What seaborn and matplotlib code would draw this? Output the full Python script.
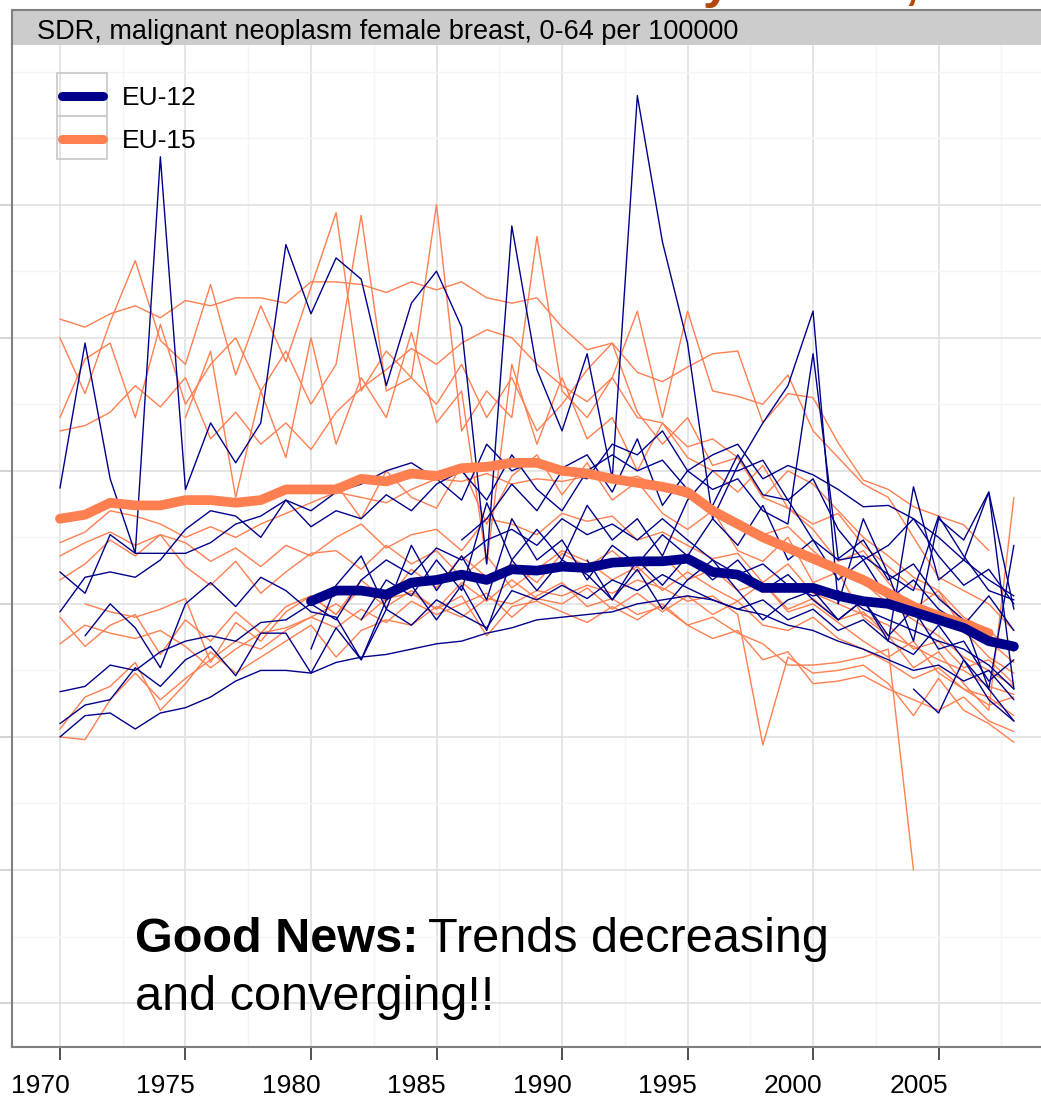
import numpy as np
import pandas as pd
import matplotlib
matplotlib.use("Agg")
import matplotlib.pyplot as plt
from matplotlib.lines import Line2D
from matplotlib.patches import Rectangle
from matplotlib.ticker import FixedLocator
from matplotlib.transforms import ScaledTranslation
import seaborn as sns

nan = np.nan
years = list(range(1970, 2009))
x_ticks = [1970, 1975, 1980, 1985, 1990, 1995, 2000, 2005]
y_major = [5, 10, 15, 20, 25, 30, 35]

# Group averages (SDR per 100000, women aged 0-64)
eu15_mean = [23.2, 23.35, 23.8, 23.7, 23.7, 23.9, 23.9, 23.8, 23.9, 24.3,
             24.3, 24.3, 24.7, 24.6, 24.9, 24.8, 25.1, 25.15, 25.3, 25.3,
             25.0, 24.9, 24.7, 24.55, 24.4, 24.2, 23.5, 23.0, 22.5, 22.1,
             21.7, 21.3, 20.9, 20.4, 19.9, 19.55, 19.25, 18.9, nan]
eu12_mean = [nan] * 10 + [
             20.1, 20.5, 20.5, 20.35, 20.8, 20.9, 21.1, 20.9, 21.3, 21.25,
             21.4, 21.35, 21.55, 21.6, 21.6, 21.7, 21.2, 21.1, 20.6, 20.6,
             20.6, 20.3, 20.1, 20.0, 19.7, 19.4, 19.1, 18.6, 18.4]

# EU-15 member states
eu15_a = [30.7, 30.4, 30.9, 31.2, 30.75, 31.4, 31.2, 31.5, 31.5, 31.3,
          32.1, 32.1, 32.0, 31.7, 32.1, 31.8, 32.1, 31.5, 31.3, 31.5,
          30.4, 29.55, 29.8, 28.7, 28.35, 28.9, 29.4, 29.5, 26.8, 27.9,
          27.75, 26.05, 24.65, 24.3, 23.65, 23.3, 22.97, 22.0, nan]
eu15_b = [30.0, 27.9, 30.6, 32.9, 29.9, 29.0, 32.0, 28.6, 31.2, 29.1,
          31.9, 34.7, 28.0, 29.5, 28.5, 35.0, 26.5, 28.0, 27.0, 33.8,
          28.0, 27.0, 28.5, 31.0, 27.0, 31.0, 28.0, 27.8, 27.5, 28.6,
          26.5, 25.5, 24.5, 24.0, 22.5, 21.0, 20.5, 20.0, 19.0]
eu15_c = [27.0, 29.2, 29.8, 27.0, 30.5, 27.5, 29.0, 30.0, 28.0, 29.5,
          27.5, 29.0, 34.6, 28.0, 28.5, 27.5, 29.0, 27.0, 28.5, 26.5,
          27.5, 28.8, 29.8, 27.2, 26.0, 27.0, 25.2, 25.5, 24.0, 25.0,
          24.5, 23.5, 22.5, 21.8, 21.0, 20.5, 19.5, 19.0, 18.2]
eu15_d = [26.5, 26.7, 27.2, 28.2, 27.4, 28.5, 26.2, 27.2, 26.0, 26.8,
          25.8, 27.2, 28.1, 28.8, 29.6, 29.0, 29.8, 30.3, 30.0, 29.0,
          28.2, 27.6, 28.5, 27.0, 26.8, 25.9, 26.2, 25.5, 24.0, 23.6,
          23.0, 23.4, 22.2, 21.4, 20.6, 20.3, 19.3, 18.6, 17.8]
eu15_e = [22.3, 22.7, 23.5, 23.3, 23.0, 22.5, 22.9, 22.5, 23.0, 23.4,
          23.8, 24.2, 24.0, 23.8, 24.3, 24.7, 24.6, 24.9, 24.5, 24.7,
          24.6, 24.8, 24.6, 24.8, 24.3, 24.0, 23.4, 23.0, 22.6, 22.9,
          22.0, 21.2, 20.8, 20.0, 19.4, 18.8, 18.0, 17.5, 16.9]
eu15_f = [21.8, 22.3, 22.7, 22.2, 22.6, 22.3, 21.6, 22.1, 21.4, 22.2,
          21.8, 22.5, 23.0, 22.1, 22.6, 22.8, 22.0, 23.2, 23.0, 22.6,
          23.4, 23.1, 23.3, 22.4, 22.7, 22.2, 21.7, 21.9, 20.8, 21.5,
          20.4, 20.0, 19.6, 19.2, 18.3, 18.6, 17.6, 17.9, 17.0]
eu15_g = [20.9, 21.5, 22.4, 21.8, 22.6, 21.4, 20.7, 21.6, 20.4, 21.2,
          21.9, 22.0, 21.3, 22.2, 21.5, 22.0, 21.0, 21.8, 20.6, 21.3,
          22.0, 21.6, 20.9, 21.4, 20.5, 21.2, 20.6, 20.1, 20.8, 19.7,
          20.0, 19.3, 18.6, 18.0, 18.6, 17.4, 16.8, 16.5, 15.8]
eu15_h = [19.5, 18.4, 19.2, 19.6, 18.1, 19.4, 18.6, 19.7, 18.9, 19.9,
          20.3, 19.6, 20.6, 19.9, 20.5, 19.8, 20.8, 20.1, 20.9, 20.2,
          20.0, 20.6, 19.8, 20.4, 19.7, 20.3, 19.6, 20.1, 19.2, 19.0,
          19.5, 18.7, 18.3, 17.8, 17.2, 17.6, 16.8, 16.2, 16.5]
eu15_i = [18.5, 19.2, 18.9, 18.7, 19.0, 18.4, 17.6, 18.3, 18.9, 19.1,
          19.5, 20.0, 19.4, 20.2, 20.4, 19.8, 20.3, 18.8, 19.9, 20.1,
          19.7, 19.3, 19.9, 19.4, 20.0, 19.2, 18.7, 19.0, 17.9, 18.2,
          17.0, 17.1, 17.3, 16.8, 16.4, 16.0, 16.5, 15.6, 15.2]
eu15_j = [15.3, 16.5, 16.9, 17.8, 16.0, 17.0, 18.2, 17.4, 18.0, 18.6,
          19.2, 18.0, 19.0, 19.4, 19.2, 19.9, 19.5, 20.2, 20.0, 20.5,
          20.3, 20.7, 20.4, 20.9, 20.6, 20.1, 20.3, 19.6, 14.7, 18.0,
          17.4, 17.5, 17.7, 17.0, 15.8, 17.2, 16.0, 15.5, 14.8]
eu15_k = [15.0, 14.9, 16.4, 17.4, 16.4, 17.2, 17.9, 18.6, 18.3, 19.0,
          19.5, 19.1, 19.8, 19.3, 20.1, 19.6, 20.0, 20.4, 19.5, 20.3,
          20.8, 19.9, 20.2, 19.6, 19.9, 19.2, 19.5, 18.9, 18.5, 17.7,
          17.7, 17.8, 18.0, 18.3, 10.0, nan, nan, nan, nan]
eu15_l = [nan, 20.0, 19.7, 19.5, 19.8, 20.2, 17.8, 19.3, 18.6, 19.7,
          20.3, 19.6, 20.9, 20.1, 21.3, 20.6, 21.8, 21.0, 21.5, 20.8,
          21.9, 21.4, 22.0, 21.2, 21.8, 20.9, 21.3, 20.5, 20.8, 19.8,
          20.2, 19.4, 19.7, 18.8, 18.4, 17.9, 17.5, 16.9, 16.6]
eu15_m = [nan] * 10 + [
          nan, 24.5, 23.2, 25.0, 24.0, 23.6, 25.2, 23.0, 24.8, 25.6,
          24.1, 25.3, 23.9, 24.6, 23.4, 22.8, 23.5, 22.0, 21.6, 22.5,
          20.8, 21.2, 19.5, 18.8, 17.6, 18.2, 17.0, 16.0, 24.0]
eu15_n = [nan, nan, nan, nan, nan, 27.0, 29.5, 24.0, 28.0, 25.5,
          30.0, 26.0, 28.5, 27.0, 30.2, 26.8, 28.0, 21.5, 29.0, 26.0,
          28.5, 26.2, 27.0, 25.0, 26.8, 25.5, 25.0, 24.2, 25.2, 23.6,
          22.8, 21.6, 22.0, 20.8, 19.8, 20.5, 19.0, 18.0, 17.4]

# EU-12 member states
eu12_a = [24.35, 29.8, 24.7, 21.9, 36.8, 24.3, 26.8, 25.3, 26.8, 33.5,
          30.9, 33.0, 32.2, 28.2, 31.3, 32.5, 30.4, 21.5, 34.2, 28.8,
          26.5, 29.4, 24.7, 39.1, 33.6, 29.8, 23.2, 25.2, 26.8, 28.2,
          31.0, 20.0, 23.2, 21.1, 18.6, 23.2, 22.4, 24.2, 19.8]
eu12_b = [21.2, 20.4, 22.6, 21.9, 21.9, 21.9, 22.3, 23.0, 23.3, 23.9,
          23.5, 24.2, 24.5, 25.0, 25.3, 24.7, 23.9, 26.0, 25.0, 25.4,
          25.1, 25.6, 24.2, 26.2, 23.7, 25.0, 24.3, 24.7, 23.5, 23.0,
          29.4, 21.7, 22.4, 20.9, 21.5, 20.2, 19.4, 16.8, 22.2]
eu12_c = [19.7, 21.0, 21.2, 21.0, 21.65, 22.8, 23.5, 23.3, 22.5, 23.9,
          22.9, 23.5, 23.2, 24.1, 23.5, 24.5, 25.0, 23.9, 25.6, 24.3,
          23.5, 25.0, 25.6, 25.0, 25.4, 24.3, 23.7, 25.6, 24.1, 23.9,
          22.4, 21.65, 21.8, 21.1, 20.5, 23.3, 21.8, 20.5, 20.15]
eu12_d = [16.7, 16.9, 17.7, 17.5, 18.2, 18.6, 18.8, 18.6, 19.3, 19.4,
          20.0, 19.4, 20.9, 21.65, 21.1, 22.1, 21.65, 22.4, 22.8, 22.2,
          23.2, 22.6, 23.0, 22.4, 23.2, 22.4, 21.65, 21.1, 21.5, 20.7,
          20.3, 20.5, 19.8, 19.4, 19.0, 18.6, 18.3, 17.7, 16.8]
eu12_e = [15.5, 16.2, 16.4, 17.6, 16.9, 17.9, 18.4, 17.3, 18.9, 18.9,
          17.4, 19.1, 17.9, 19.8, 19.2, 20.15, 19.6, 19.1, 20.5, 20.15,
          20.7, 20.2, 20.9, 20.5, 21.1, 20.6, 20.15, 19.8, 20.15, 19.4,
          19.8, 19.0, 19.4, 18.6, 18.1, 19.2, 17.9, 16.4, 15.6]
eu12_f = [15.0, 15.8, 15.9, 15.3, 15.9, 16.1, 16.5, 17.1, 17.5, 17.5,
          17.4, 17.8, 18.0, 18.1, 18.3, 18.5, 18.6, 18.9, 19.1, 19.4,
          19.5, 19.6, 19.7, 20.0, 20.15, 20.3, 20.15, 19.8, 19.6, 19.2,
          19.0, 18.6, 18.3, 17.9, 17.5, 17.7, 17.1, 17.5, 16.4]
eu12_g = [nan, 18.8, 20.0, 19.1, 17.6, 20.0, 20.8, 19.9, 21.0, 20.5,
          19.7, 19.5, 17.9, 20.15, 20.7, 19.4, 20.7, 19.0, 21.65, 20.5,
          21.65, 21.1, 20.15, 21.65, 20.7, 21.8, 20.9, 21.65, 20.5, 21.1,
          20.15, 19.4, 20.15, 18.8, 19.8, 18.3, 18.6, 17.1, 17.9]
eu12_h = [nan] * 10 + [
          18.3, 20.7, 21.8, 19.8, 22.2, 20.5, 21.8, 20.15, 23.2, 21.65,
          22.4, 20.9, 22.2, 21.5, 22.6, 21.8, 23.2, 22.2, 23.7, 21.65,
          22.4, 20.9, 21.65, 20.15, 20.9, 19.8, 19.2, 20.3, 19.0]
eu12_i = [nan] * 12 + [
          19.4, 20.9, 20.3, 21.65, 20.5, 23.8, 21.65, 22.8,
          21.65, 23.7, 22.4, 23.2, 21.8, 23.9, 25.0, 25.0, 25.4, 23.9,
          24.7, 22.8, 21.65, 22.2, 23.2, 21.8, 20.7, 21.3, 20.0]
eu12_j = [nan] * 16 + [
          22.4, 23.2, 24.5, 23.5,
          25.0, 24.7, 26.0, 25.6, 26.5, 25.0, 25.6, 26.0, 24.7, 25.2,
          24.85, 24.3, 23.65, 23.7, 23.2, 22.5, 21.65, 20.9, 20.3]
eu12_k = [nan] * 34 + [16.8, 15.9, 17.9, 16.8, 15.6]
eu12_l = [nan] * 21 + [
          21.65, 20.15, 21.3, 19.8, 20.9, 21.65, 20.5, 19.4, 20.15,
          20.5, 19.4, 20.15, 18.6, 24.4, 20.9, 21.65, 24.2, 16.8]

eu15_series = [eu15_a, eu15_b, eu15_c, eu15_d, eu15_e, eu15_f, eu15_g,
               eu15_h, eu15_i, eu15_j, eu15_k, eu15_l, eu15_m, eu15_n]
eu12_series = [eu12_a, eu12_b, eu12_c, eu12_d, eu12_e, eu12_f,
               eu12_g, eu12_h, eu12_i, eu12_j, eu12_k, eu12_l]

rows = []
for group, series_list in (("EU-15", eu15_series), ("EU-12", eu12_series)):
    for i, vals in enumerate(series_list):
        for yr, v in zip(years, vals):
            if not np.isnan(v):
                rows.append((group, f"{group} #{i + 1}", yr, v))
df = pd.DataFrame(rows, columns=["group", "country", "year", "rate"])

NAVY = "#00008B"
CORAL = "#FF7F50"

sns.set_style("white")
plt.rcParams["font.family"] = ["Liberation Sans", "DejaVu Sans"]
plt.rcParams["text.color"] = "black"

W, H = 1041, 1097
fig = plt.figure(figsize=(W / 100, H / 100), dpi=100)
ax = fig.add_axes([12 / W, 50 / H, (W - 12) / W, 1002 / H])

# individual countries
sns.lineplot(data=df[df.group == "EU-15"], x="year", y="rate", units="country",
             estimator=None, color=CORAL, lw=1.0, ax=ax, legend=False)
sns.lineplot(data=df[df.group == "EU-12"], x="year", y="rate", units="country",
             estimator=None, color=NAVY, lw=1.0, ax=ax, legend=False)

# group averages
sns.lineplot(x=years, y=eu15_mean, color=CORAL, lw=7, ax=ax, label="EU-15",
             errorbar=None, solid_joinstyle="round")
sns.lineplot(x=years, y=eu12_mean, color=NAVY, lw=7, ax=ax, label="EU-12",
             errorbar=None, solid_joinstyle="round")

ax.set_xlim(1968.09, 2009.08)
ax.set_ylim(3.35, 41.0)
ax.xaxis.set_major_locator(FixedLocator(x_ticks))
ax.xaxis.set_minor_locator(FixedLocator([1967.5 + 5 * k for k in range(9)]))
ax.yaxis.set_major_locator(FixedLocator(y_major))
ax.yaxis.set_minor_locator(FixedLocator([7.5, 12.5, 17.5, 22.5, 27.5, 32.5, 37.5, 40.0]))
ax.grid(which="major", color="#E3E3E3", lw=1.3)
ax.grid(which="minor", color="#F4F4F4", lw=1.0)
ax.set_axisbelow(True)
ax.tick_params(axis="x", which="major", bottom=True, length=9.4, width=1.2,
               color="#333333", labelsize=19, pad=10, labelcolor="black")
ax.tick_params(axis="x", which="minor", length=0)
ax.tick_params(axis="y", which="major", left=True, length=8.6, width=1.2,
               color="#CCCCCC", labelleft=False)
ax.tick_params(axis="y", which="minor", length=0)
ax.set_xlabel("")
ax.set_ylabel("")
for s in ("top", "right"):
    ax.spines[s].set_visible(False)
for s in ("left", "bottom"):
    ax.spines[s].set_color("#7F7F7F")
    ax.spines[s].set_linewidth(1.5)

# year labels sit slightly left of their tick marks
shift = ScaledTranslation(-20 / 100, 0, fig.dpi_scale_trans)
for lbl in ax.get_xticklabels():
    lbl.set_transform(lbl.get_transform() + shift)

# legend
handles, labels = ax.get_legend_handles_labels()
order = [labels.index("EU-12"), labels.index("EU-15")]
leg = ax.legend([handles[i] for i in order], [labels[i] for i in order],
                loc="upper left", bbox_to_anchor=(62 / W, (H - 86) / H),
                bbox_transform=fig.transFigure, frameon=False, fontsize=19,
                borderpad=0, borderaxespad=0, handlelength=1.55,
                handletextpad=0.72, labelspacing=0.72)
for txt in leg.get_texts():
    txt.set_color("black")
for lh in leg.get_lines():
    lh.set_linewidth(6.5)
for top in (73, 116):
    ax.add_patch(Rectangle((57 / W, (H - top - 43) / H), 50 / W, 43 / H,
                           transform=fig.transFigure, fill=False,
                           edgecolor="#CCCCCC", lw=1.3, zorder=4, clip_on=False))

# facet strip
fig.add_artist(Rectangle((12 / W, (H - 45) / H), (W - 12) / W, 35 / H,
                         transform=fig.transFigure, facecolor="#CCCCCC",
                         edgecolor="none"))
fig.add_artist(Line2D([12 / W, 1], [(H - 10) / H] * 2, transform=fig.transFigure,
                      color="#7F7F7F", lw=1.5))
fig.add_artist(Line2D([12 / W] * 2, [(H - 10) / H, (H - 45) / H],
                      transform=fig.transFigure, color="#7F7F7F", lw=1.5))
fig.text(37 / W, (H - 39) / H, "SDR, malignant neoplasm female breast, 0-64 per 100000",
         fontsize=19.5, va="baseline", ha="left", color="black")

# slide heading running off the top edge
fig.text(703 / W, (H + 2.5) / H, "y", fontsize=36, fontweight="bold",
         color="#B4460F", va="baseline", ha="left")
fig.text(905 / W, (H + 2.5) / H, ",", fontsize=36, fontweight="bold",
         color="#B4460F", va="baseline", ha="left")

# annotation
t1 = fig.text(135 / W, (H - 952) / H, "Good News:", fontsize=35,
              fontweight="bold", va="baseline", ha="left", color="black")
fig.canvas.draw()
bb = t1.get_window_extent()
fig.text((bb.x1 + 10) / W, (H - 952) / H, "Trends decreasing", fontsize=35,
         va="baseline", ha="left", color="black")
fig.text(135 / W, (H - 1010) / H, "and converging!!", fontsize=35,
         va="baseline", ha="left", color="black")

fig.savefig("out.png", dpi=100)
